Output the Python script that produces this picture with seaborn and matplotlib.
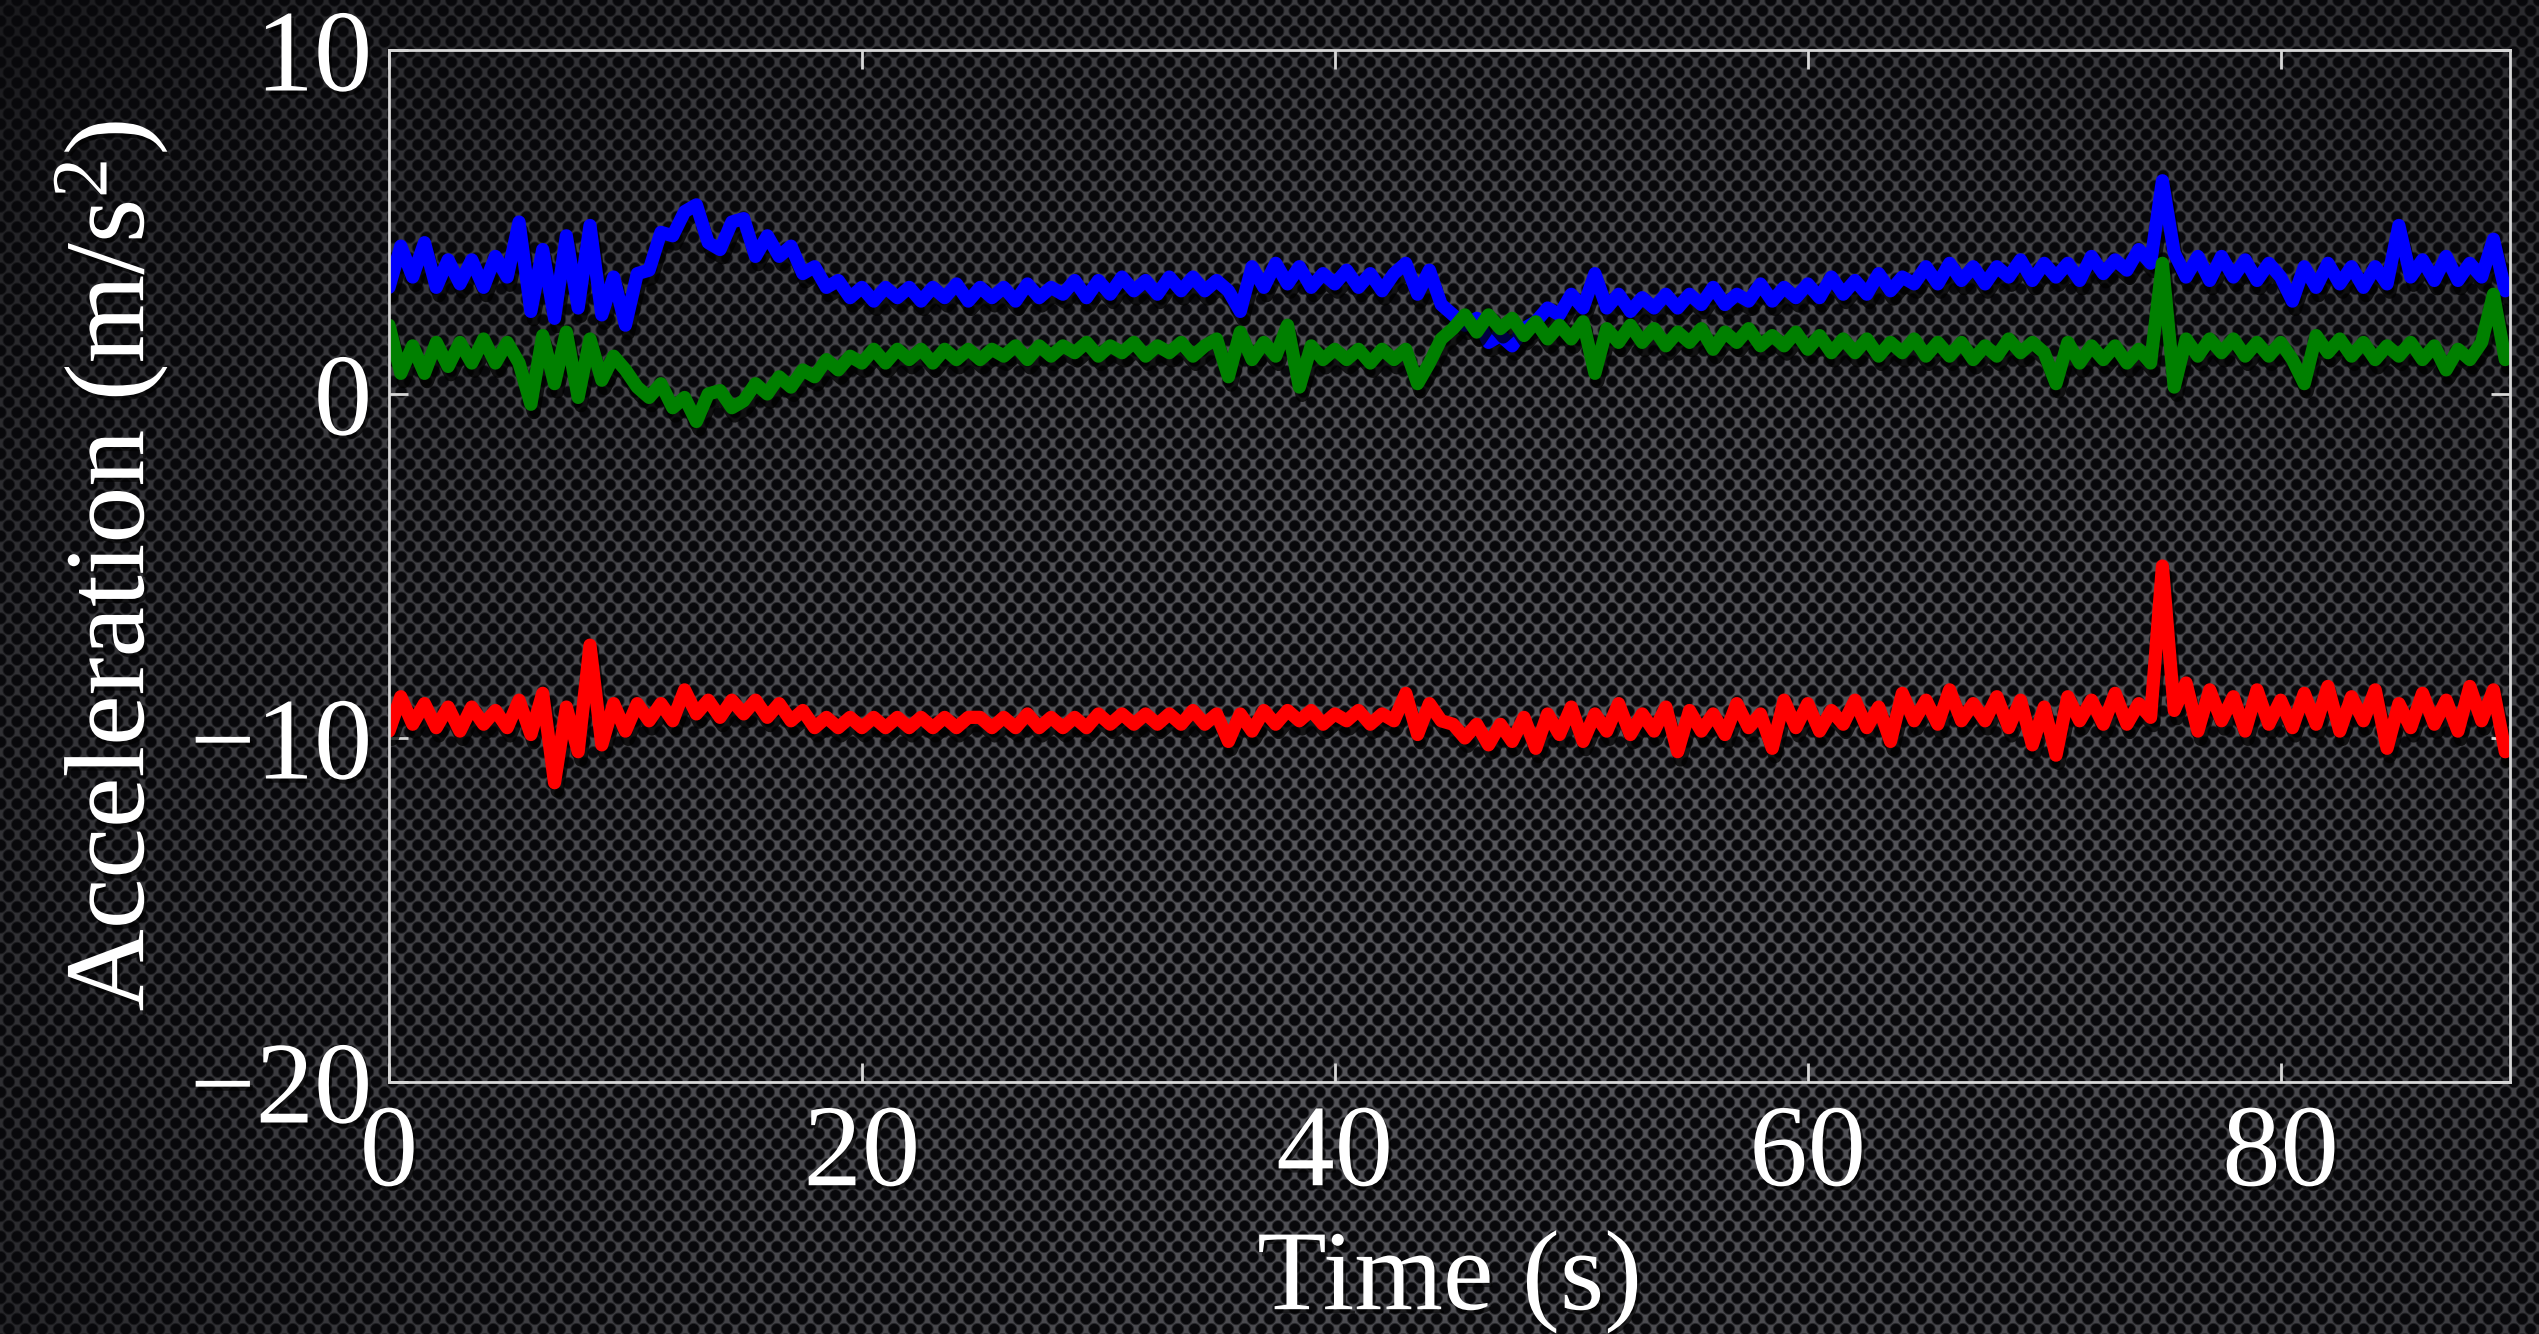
import numpy as np
import pandas as pd
import matplotlib
matplotlib.use("Agg")
import matplotlib.pyplot as plt
import matplotlib.patheffects as pe
import seaborn as sns

# ---------------- data (0.5 s steps) ----------------
time_step = 0.5
blue_x = [
    3.1, 4.3, 3.4, 4.4, 3.1, 3.9, 3.2, 3.9, 3.1, 4.0,
    3.4, 5.0, 2.4, 4.2, 2.2, 4.6, 2.5, 4.9, 2.3, 3.4,
    2.0, 3.5, 3.6, 4.7, 4.6, 5.3, 5.5, 4.4, 4.2, 5.0,
    5.1, 4.0, 4.6, 4.0, 4.3, 3.5, 3.7, 3.1, 3.3, 2.8,
    3.1, 2.7, 3.1, 2.8, 3.1, 2.7, 3.1, 2.8, 3.2, 2.7,
    3.1, 2.8, 3.1, 2.7, 3.2, 2.8, 3.1, 2.9, 3.3, 2.8,
    3.3, 2.9, 3.4, 3.0, 3.3, 2.9, 3.4, 3.0, 3.4, 3.0,
    3.3, 3.0, 2.4, 3.7, 3.1, 3.8, 3.2, 3.7, 3.1, 3.5,
    3.2, 3.6, 3.1, 3.5, 3.0, 3.5, 3.8, 2.9, 3.6, 2.6,
    2.3, 2.0, 2.2, 1.5, 1.7, 1.4, 1.9, 2.1, 2.5, 2.3,
    2.9, 2.5, 3.5, 2.5, 2.9, 2.4, 2.8, 2.5, 2.9, 2.5,
    2.9, 2.6, 3.1, 2.6, 2.9, 2.7, 3.2, 2.7, 3.1, 2.8,
    3.2, 2.8, 3.4, 2.9, 3.3, 2.9, 3.5, 3.0, 3.4, 3.2,
    3.7, 3.2, 3.8, 3.3, 3.7, 3.2, 3.7, 3.4, 3.9, 3.3,
    3.8, 3.4, 3.8, 3.3, 4.0, 3.5, 3.9, 3.6, 4.2, 3.8,
    6.2, 4.1, 3.4, 4.0, 3.3, 4.0, 3.4, 3.9, 3.3, 3.8,
    3.4, 2.7, 3.7, 3.1, 3.8, 3.2, 3.7, 3.1, 3.7, 3.2,
    4.9, 3.4, 3.9, 3.3, 4.0, 3.3, 3.8, 3.4, 4.5, 3.0,
]
green_y = [
    2.0, 0.6, 1.4, 0.6, 1.5, 0.8, 1.5, 0.9, 1.6, 0.9,
    1.5, 0.9, -0.3, 1.7, 0.3, 1.8, -0.1, 1.6, 0.4, 1.1,
    0.7, 0.2, -0.1, 0.3, -0.4, -0.1, -0.8, 0.0, 0.1, -0.4,
    -0.2, 0.3, 0.0, 0.5, 0.2, 0.7, 0.5, 1.0, 0.7, 1.1,
    0.9, 1.3, 0.9, 1.3, 1.0, 1.3, 0.9, 1.3, 1.0, 1.3,
    1.0, 1.3, 1.1, 1.4, 1.0, 1.4, 1.1, 1.4, 1.2, 1.5,
    1.1, 1.4, 1.2, 1.5, 1.1, 1.4, 1.2, 1.5, 1.1, 1.4,
    1.6, 0.5, 1.8, 1.0, 1.5, 1.1, 2.0, 0.2, 1.4, 1.0,
    1.3, 1.0, 1.3, 0.9, 1.3, 1.0, 1.3, 0.3, 0.9, 1.6,
    1.9, 2.3, 1.8, 2.3, 1.9, 2.2, 1.7, 2.1, 1.6, 2.0,
    1.6, 2.1, 0.6, 1.9, 1.5, 2.0, 1.5, 1.9, 1.4, 1.8,
    1.5, 1.9, 1.3, 1.8, 1.5, 1.9, 1.4, 1.7, 1.4, 1.8,
    1.3, 1.7, 1.2, 1.6, 1.2, 1.6, 1.1, 1.5, 1.2, 1.6,
    1.1, 1.5, 1.1, 1.5, 1.0, 1.4, 1.1, 1.6, 1.2, 1.5,
    1.2, 0.3, 1.5, 0.9, 1.4, 1.0, 1.4, 0.9, 1.3, 0.9,
    3.8, 0.2, 1.6, 1.1, 1.6, 1.2, 1.6, 1.1, 1.5, 1.1,
    1.5, 1.0, 0.3, 1.7, 1.2, 1.6, 1.1, 1.5, 1.0, 1.4,
    1.1, 1.5, 1.0, 1.4, 0.7, 1.3, 1.0, 1.5, 2.9, 1.0,
]
red_z = [
    -9.8, -8.8, -9.6, -9.0, -9.7, -9.1, -9.8, -9.1, -9.6, -9.2,
    -9.7, -8.9, -9.9, -8.7, -11.3, -9.1, -10.4, -7.3, -10.2, -9.0,
    -9.8, -9.0, -9.5, -9.0, -9.5, -8.6, -9.3, -8.9, -9.4, -8.9,
    -9.3, -8.9, -9.4, -9.0, -9.5, -9.2, -9.7, -9.4, -9.7, -9.4,
    -9.7, -9.4, -9.7, -9.4, -9.7, -9.4, -9.7, -9.4, -9.7, -9.4,
    -9.4, -9.7, -9.4, -9.7, -9.3, -9.7, -9.4, -9.7, -9.4, -9.7,
    -9.3, -9.6, -9.3, -9.6, -9.3, -9.6, -9.3, -9.6, -9.2, -9.6,
    -9.3, -10.1, -9.3, -9.8, -9.2, -9.6, -9.2, -9.5, -9.2, -9.6,
    -9.3, -9.5, -9.2, -9.6, -9.3, -9.5, -8.7, -9.9, -9.0, -9.5,
    -9.6, -10.0, -9.6, -10.2, -9.6, -10.1, -9.4, -10.3, -9.3, -9.9,
    -9.1, -10.1, -9.3, -9.8, -9.0, -9.9, -9.3, -9.8, -9.1, -10.4,
    -9.2, -9.8, -9.3, -9.9, -9.0, -9.7, -9.3, -10.3, -8.9, -9.7,
    -9.0, -9.8, -9.2, -9.6, -8.9, -9.7, -9.1, -10.1, -8.7, -9.5,
    -8.9, -9.6, -8.6, -9.5, -9.0, -9.5, -8.8, -9.7, -8.9, -10.2,
    -9.1, -10.5, -8.8, -9.5, -8.9, -9.6, -8.7, -9.6, -9.0, -9.4,
    -5.0, -9.2, -8.4, -9.8, -8.6, -9.5, -8.8, -9.8, -8.6, -9.6,
    -8.9, -9.7, -8.7, -9.6, -8.5, -9.8, -8.8, -9.5, -8.6, -10.3,
    -9.0, -9.7, -8.7, -9.6, -8.9, -9.8, -8.5, -9.5, -8.6, -10.4,
]
series_names = ["x", "y", "z"]
series_colors = ["#0000FF", "#008000", "#FF0000"]
x_ticks = [0, 20, 40, 60, 80]
y_ticks = [-20, -10, 0, 10]
x_label = "Time (s)"
y_label = r"Acceleration (m/s$^{2}$)"

time = np.arange(len(blue_x)) * time_step
df = pd.concat([
    pd.DataFrame({"t": time, "a": vals, "axis": name})
    for name, vals in zip(series_names, [blue_x, green_y, red_z])
], ignore_index=True)

# ---------------- style ----------------
sns.set_theme(style="ticks")
plt.rcParams["font.family"] = ["Liberation Serif", "DejaVu Serif"]
plt.rcParams["mathtext.fontset"] = "custom"
plt.rcParams["mathtext.rm"] = "Liberation Serif"
plt.rcParams["mathtext.it"] = "Liberation Serif:italic"
plt.rcParams["axes.unicode_minus"] = True

W, H = 2539, 1334
fig = plt.figure(figsize=(W / 100, H / 100), dpi=100)

# perforated-metal background (decoration)
yy, xx = np.mgrid[0:H, 0:W].astype(np.float32)
DX, DY, R = 16.7, 10.3, 5.8
j0 = np.floor(yy / DY)
best = np.full((H, W), 1e9, np.float32)
for jj in (j0, j0 + 1):
    off = (jj % 2) * DX / 2
    cy = jj * DY
    cx = np.round((xx - off) / DX) * DX + off
    best = np.minimum(best, np.hypot(xx - cx, yy - cy))
web = np.clip((best - R + 1.0) / 2.0, 0, 1)
u = (xx / W - 0.58) / 0.62
v = (yy / H - 0.62) / 0.80
vig = np.clip(1 - 0.55 * (u ** 2 + v ** 2), 0.22, 1)
hole_c = np.array([0.035, 0.035, 0.045])
web_c = np.array([0.34, 0.34, 0.36])
img = hole_c + (web_c - hole_c) * (web * vig)[..., None]
bg = fig.add_axes([0, 0, 1, 1], zorder=0)
bg.imshow(img, aspect="auto", interpolation="nearest")
bg.axis("off")

ax = fig.add_axes([389 / W, 1 - 1082 / H, (2510 - 389) / W, (1082 - 50) / H], zorder=1)
ax.patch.set_alpha(0)

sns.lineplot(data=df, x="t", y="a", hue="axis", hue_order=series_names,
             palette=series_colors, linewidth=9.5, errorbar=None,
             legend=False, ax=ax)
for ln in ax.lines:
    ln.set_path_effects([pe.SimpleLineShadow(offset=(2, -6), shadow_color="black", alpha=0.75),
                         pe.Normal()])
    ln.set_solid_joinstyle("round")
    ln.set_solid_capstyle("round")

ax.set_xlim(0, 89.7)
ax.set_ylim(-20, 10)
ax.set_xticks(x_ticks)
ax.set_yticks(y_ticks)
for s in ax.spines.values():
    s.set_visible(True)
    s.set_color("#d8d8d8")
    s.set_linewidth(2)
ax.tick_params(direction="in", length=14, width=2, color="#d8d8d8",
               labelcolor="white", labelsize=84, top=True, right=True)
ax.tick_params(axis="x", pad=16)
ax.tick_params(axis="y", pad=12)

txt_fx = [pe.withSimplePatchShadow(offset=(2, -3), shadow_rgbFace="black", alpha=0.6)]
ax.set_xlabel(x_label, fontsize=82, color="white", labelpad=14)
ax.set_ylabel(y_label, fontsize=82, color="white", labelpad=14)
for t in ax.get_xticklabels() + ax.get_yticklabels() + [ax.xaxis.label, ax.yaxis.label]:
    t.set_path_effects(txt_fx)

fig.savefig("out.png", dpi=100)
